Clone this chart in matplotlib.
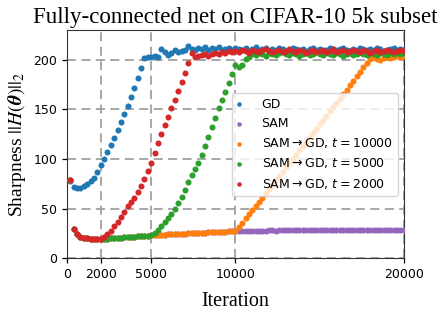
import numpy as np
import matplotlib
matplotlib.use("Agg")
import matplotlib.pyplot as plt

# iterations (one point every 200 steps)
iters = np.arange(200, 20001, 200)

gd = [78, 72, 71, 71, 72.5, 74.5, 77.5, 81, 87, 94,
      100, 107, 114, 121, 129, 137, 145, 153, 163, 172,
      182, 192, 202, 203, 203, 204, 203, 211, 208, 205,
      207, 210, 208, 209, 210, 214, 211, 210, 212, 211,
      213, 210, 212, 211, 213, 210, 211, 212, 210, 212,
      211, 210, 212, 209, 211, 213, 210, 211, 212, 209,
      211, 210, 212, 211, 209, 210, 212, 211, 210, 211,
      209, 211, 212, 210, 211, 209, 210, 212, 211, 210,
      211, 212, 210, 209, 211, 210, 212, 211, 210, 211,
      210, 212, 211, 209, 210, 211, 212, 210, 211, 210]

sam = [79, 29, 24, 21.5, 20.5, 20, 19.7, 19.5, 19.5, 19.5,
       19.6, 19.8, 20.0, 20.3, 20.5, 20.7, 20.9, 21.2, 21.4, 21.6,
       21.9, 22.2, 22.5, 22.8, 23.0, 23.2, 23.4, 23.5, 23.7, 23.9,
       24.0, 24.2, 24.4, 24.5, 24.7, 24.9, 25.0, 25.2, 25.4, 25.5,
       25.7, 25.9, 26.0, 26.2, 26.4, 26.6, 26.8, 27.0, 27.2, 27.4,
       27.5, 27.6, 27.6, 27.7, 27.7, 27.8, 27.7, 27.8, 27.8, 27.9,
       27.9, 27.8, 27.9, 28.0, 27.9, 28.0, 28.0, 27.9, 28.0, 28.1,
       28.0, 28.1, 28.0, 28.1, 28.1, 28.0, 28.1, 28.2, 28.1, 28.1,
       28.2, 28.1, 28.2, 28.1, 28.2, 28.2, 28.1, 28.2, 28.3, 28.2,
       28.2, 28.3, 28.2, 28.2, 28.3, 28.2, 28.3, 28.3, 28.2, 28.3]

# after the switch to GD (the part before the switch is the SAM run)
tail_10000 = [31, 35.5, 40, 44.5, 49, 53, 57, 61, 65.5, 70,
              74, 78.5, 83, 87, 91.5, 96, 100, 104.5, 109, 113,
              117.5, 122, 126, 130.5, 135, 139, 143.5, 148, 152, 156.5,
              161, 165.5, 170, 174.5, 179, 183.5, 188, 192.5, 197, 201,
              203, 201, 200, 202, 203, 202, 203, 204, 203, 204]

tail_5000 = [25, 28, 32, 36, 40, 45, 50, 56, 62, 69,
             77, 84, 90, 96, 104, 113, 122, 132, 141, 151,
             160, 168, 177, 186, 195, 193, 195, 201, 203, 206,
             205, 207, 206, 204, 207, 206, 205, 207, 208, 206,
             205, 207, 206, 204, 206, 207, 205, 206, 208, 206,
             205, 207, 206, 205, 207, 206, 204, 206, 207, 205,
             206, 208, 206, 205, 207, 206, 205, 207, 206, 205,
             207, 206, 208, 206, 207]

tail_2000 = [21, 24, 27.5, 32, 36.5, 41, 46.5, 52.5, 57, 61,
             66.5, 73, 80, 88, 96, 106, 116, 125, 134, 142,
             151, 160, 169, 178, 187, 197, 207, 203, 204, 205,
             206, 204, 206, 207, 206, 208, 207, 209, 208, 209,
             208, 210, 209, 207, 210, 209, 208, 210, 211, 209,
             208, 209, 210, 208, 209, 211, 209, 208, 210, 209,
             207, 209, 210, 208, 209, 210, 208, 209, 211, 208,
             209, 210, 208, 209, 210, 209, 208, 210, 209, 207,
             209, 210, 208, 209, 210, 209, 208, 209, 210, 209]

sw_10000 = sam[:50] + tail_10000
sw_5000 = sam[:25] + tail_5000
sw_2000 = sam[:10] + tail_2000

series = [
    (gd, "GD", "tab:blue"),
    (sam, "SAM", "tab:purple"),
    (sw_10000, r"SAM$\to$GD, $t=10000$", "tab:orange"),
    (sw_5000, r"SAM$\to$GD, $t=5000$", "tab:green"),
    (sw_2000, r"SAM$\to$GD, $t=2000$", "tab:red"),
]

serif = "Liberation Serif"

fig = plt.figure(figsize=(4.38, 3.11), dpi=100)
ax = fig.add_axes([0.153, 0.170, 0.769, 0.733])

for vals, lab, col in series:
    ax.scatter(iters, vals, s=19, color=col, label=lab, linewidths=0, zorder=3)

ax.set_xlim(0, 20000)
ax.set_ylim(0, 230)
ax.set_xticks([0, 2000, 5000, 10000, 20000])
ax.set_yticks([0, 50, 100, 150, 200])
ax.tick_params(labelsize=9, length=3.5, width=0.9)
ax.grid(True, ls=(0, (5, 3)), lw=1.3, color="#a0a0a0", zorder=0)
ax.set_axisbelow(True)
for sp in ax.spines.values():
    sp.set_color("#333333")

ax.set_xlabel("Iteration", family=serif, fontsize=14.5, labelpad=8)
ax.set_ylabel(r"Sharpness $||H(\mathbfit{\theta})||_2$", family=serif,
              fontsize=14, math_fontfamily="stix")
ax.set_title("Fully-connected net on CIFAR-10 5k subset", family=serif,
             fontsize=16.5, pad=5)

ax.legend(loc="center right", fontsize=9, scatterpoints=1, markerscale=0.75,
          handlelength=0.4, handletextpad=1.6)

fig.savefig("out.png", dpi=100)
